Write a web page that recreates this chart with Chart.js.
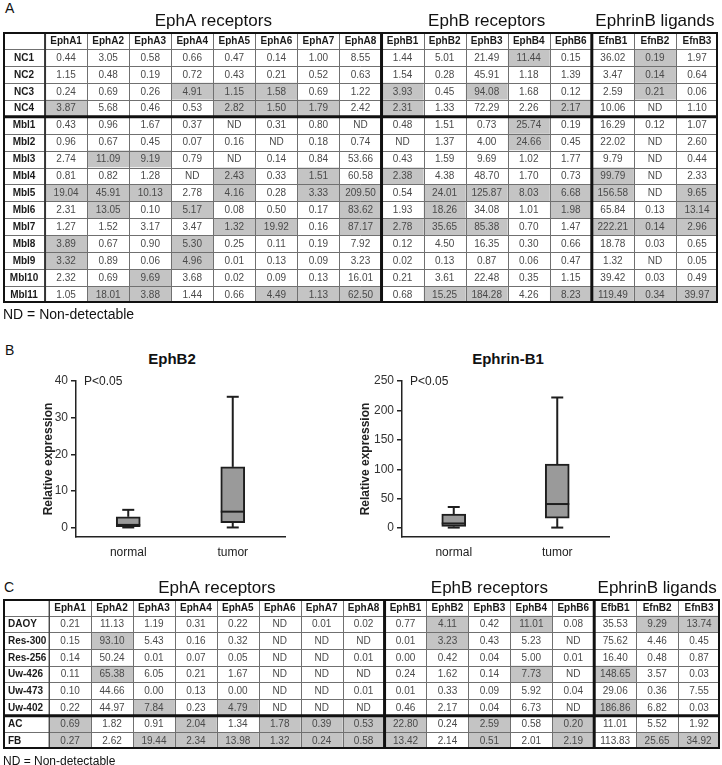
<!DOCTYPE html>
<html>
<head>
<meta charset="utf-8">
<script src="https://cdn.jsdelivr.net/npm/chart.js"></script>
<style>
  body { margin: 0; width: 722px; height: 765px; position: relative; overflow: hidden; background: #fff;
         font-family: "Liberation Sans", Arial, sans-serif; color: #111; }
  canvas, .txt { position: absolute; }
  .txt { line-height: 1; white-space: nowrap; }
  .ttl { font-weight: bold; font-size: 15px; text-align: center; }
</style>
</head>
<body>
<div class="txt" style="left:5px;top:1px;font-size:14px">A</div>
<canvas id="tableA" width="722" height="310" style="left:0;top:0"></canvas>
<div class="txt" style="left:3px;top:307px;font-size:14px">ND = Non-detectable</div>

<div class="txt" style="left:5px;top:343px;font-size:14px">B</div>
<div class="txt ttl" style="left:72px;top:351px;width:200px">EphB2</div>
<div class="txt ttl" style="left:408px;top:351px;width:200px">Ephrin-B1</div>
<canvas id="boxEphB2" width="300" height="190" style="left:0;top:370px"></canvas>
<canvas id="boxEfnB1" width="270" height="190" style="left:355px;top:370px"></canvas>

<div class="txt" style="left:4px;top:580px;font-size:14px">C</div>
<canvas id="tableC" width="722" height="180" style="left:0;top:575px"></canvas>
<div class="txt" style="left:3px;top:755px;font-size:12px">ND = Non-detectable</div>

<script>
const FONT = '"Liberation Sans", Arial, sans-serif';
Chart.defaults.font.family = FONT;

// column groups shared by both tables
const groupNames = ['EphA receptors', 'EphB receptors', 'EphrinB ligands'];
const groupSizes = [8, 5, 3];

// table A: tissue samples
const colsA = ['EphA1', 'EphA2', 'EphA3', 'EphA4', 'EphA5', 'EphA6', 'EphA7', 'EphA8',
               'EphB1', 'EphB2', 'EphB3', 'EphB4', 'EphB6', 'EfnB1', 'EfnB2', 'EfnB3'];
const rowsA = ['NC1', 'NC2', 'NC3', 'NC4', 'Mbl1', 'Mbl2', 'Mbl3', 'Mbl4', 'Mbl5', 'Mbl6',
               'Mbl7', 'Mbl8', 'Mbl9', 'Mbl10', 'Mbl11'];
const valuesA = [
  ['0.44', '3.05', '0.58', '0.66', '0.47', '0.14', '1.00', '8.55', '1.44', '5.01', '21.49', '11.44', '0.15', '36.02', '0.19', '1.97'],
  ['1.15', '0.48', '0.19', '0.72', '0.43', '0.21', '0.52', '0.63', '1.54', '0.28', '45.91', '1.18', '1.39', '3.47', '0.14', '0.64'],
  ['0.24', '0.69', '0.26', '4.91', '1.15', '1.58', '0.69', '1.22', '3.93', '0.45', '94.08', '1.68', '0.12', '2.59', '0.21', '0.06'],
  ['3.87', '5.68', '0.46', '0.53', '2.82', '1.50', '1.79', '2.42', '2.31', '1.33', '72.29', '2.26', '2.17', '10.06', 'ND', '1.10'],
  ['0.43', '0.96', '1.67', '0.37', 'ND', '0.31', '0.80', 'ND', '0.48', '1.51', '0.73', '25.74', '0.19', '16.29', '0.12', '1.07'],
  ['0.96', '0.67', '0.45', '0.07', '0.16', 'ND', '0.18', '0.74', 'ND', '1.37', '4.00', '24.66', '0.45', '22.02', 'ND', '2.60'],
  ['2.74', '11.09', '9.19', '0.79', 'ND', '0.14', '0.84', '53.66', '0.43', '1.59', '9.69', '1.02', '1.77', '9.79', 'ND', '0.44'],
  ['0.81', '0.82', '1.28', 'ND', '2.43', '0.33', '1.51', '60.58', '2.38', '4.38', '48.70', '1.70', '0.73', '99.79', 'ND', '2.33'],
  ['19.04', '45.91', '10.13', '2.78', '4.16', '0.28', '3.33', '209.50', '0.54', '24.01', '125.87', '8.03', '6.68', '156.58', 'ND', '9.65'],
  ['2.31', '13.05', '0.10', '5.17', '0.08', '0.50', '0.17', '83.62', '1.93', '18.26', '34.08', '1.01', '1.98', '65.84', '0.13', '13.14'],
  ['1.27', '1.52', '3.17', '3.47', '1.32', '19.92', '0.16', '87.17', '2.78', '35.65', '85.38', '0.70', '1.47', '222.21', '0.14', '2.96'],
  ['3.89', '0.67', '0.90', '5.30', '0.25', '0.11', '0.19', '7.92', '0.12', '4.50', '16.35', '0.30', '0.66', '18.78', '0.03', '0.65'],
  ['3.32', '0.89', '0.06', '4.96', '0.01', '0.13', '0.09', '3.23', '0.02', '0.13', '0.87', '0.06', '0.47', '1.32', 'ND', '0.05'],
  ['2.32', '0.69', '9.69', '3.68', '0.02', '0.09', '0.13', '16.01', '0.21', '3.61', '22.48', '0.35', '1.15', '39.42', '0.03', '0.49'],
  ['1.05', '18.01', '3.88', '1.44', '0.66', '4.49', '1.13', '62.50', '0.68', '15.25', '184.28', '4.26', '8.23', '119.49', '0.34', '39.97']
];
// highlighted (grey) cells, column indexes per row
const shadeA = [
  [11, 14], [14], [3, 4, 5, 8, 10, 14], [0, 4, 5, 6, 8, 12],
  [11], [11], [1, 2], [4, 6, 8, 13],
  [0, 1, 2, 4, 6, 7, 9, 10, 11, 12, 13, 15], [1, 3, 7, 9, 12, 15],
  [4, 5, 7, 8, 9, 10, 13, 14, 15], [0, 3], [0, 3], [2],
  [1, 2, 5, 6, 7, 9, 10, 12, 13, 14, 15]
];

// table C: cell lines
const colsC = ['EphA1', 'EphA2', 'EphA3', 'EphA4', 'EphA5', 'EphA6', 'EphA7', 'EphA8',
               'EphB1', 'EphB2', 'EphB3', 'EphB4', 'EphB6', 'EfbB1', 'EfnB2', 'EfnB3'];
const rowsC = ['DAOY', 'Res-300', 'Res-256', 'Uw-426', 'Uw-473', 'Uw-402', 'AC', 'FB'];
const valuesC = [
  ['0.21', '11.13', '1.19', '0.31', '0.22', 'ND', '0.01', '0.02', '0.77', '4.11', '0.42', '11.01', '0.08', '35.53', '9.29', '13.74'],
  ['0.15', '93.10', '5.43', '0.16', '0.32', 'ND', 'ND', 'ND', '0.01', '3.23', '0.43', '5.23', 'ND', '75.62', '4.46', '0.45'],
  ['0.14', '50.24', '0.01', '0.07', '0.05', 'ND', 'ND', '0.01', '0.00', '0.42', '0.04', '5.00', '0.01', '16.40', '0.48', '0.87'],
  ['0.11', '65.38', '6.05', '0.21', '1.67', 'ND', 'ND', 'ND', '0.24', '1.62', '0.14', '7.73', 'ND', '148.65', '3.57', '0.03'],
  ['0.10', '44.66', '0.00', '0.13', '0.00', 'ND', 'ND', '0.01', '0.01', '0.33', '0.09', '5.92', '0.04', '29.06', '0.36', '7.55'],
  ['0.22', '44.97', '7.84', '0.23', '4.79', 'ND', 'ND', 'ND', '0.46', '2.17', '0.04', '6.73', 'ND', '186.86', '6.82', '0.03'],
  ['0.69', '1.82', '0.91', '2.04', '1.34', '1.78', '0.39', '0.53', '22.80', '0.24', '2.59', '0.58', '0.20', '11.01', '5.52', '1.92'],
  ['0.27', '2.62', '19.44', '2.34', '13.98', '1.32', '0.24', '0.58', '13.42', '2.14', '0.51', '2.01', '2.19', '113.83', '25.65', '34.92']
];
const shadeC = [
  [9, 11, 14, 15], [1, 9], [], [1, 11, 13], [], [2, 4, 13],
  [0, 3, 5, 6, 7, 8, 10, 12],
  [0, 2, 3, 4, 5, 6, 7, 8, 10, 12, 14, 15]
];

// panel B box plots
const groups = ['normal', 'tumor'];
const ephb2Min = [0.1, 0.1];
const ephb2Q1 = [0.3, 1.4];
const ephb2Median = [0.8, 4.4];
const ephb2Q3 = [3.0, 16.6];
const ephb2Max = [4.9, 35.7];
const ephb2Ticks = [0, 10, 20, 30, 40];

const efnb1Min = [1, 1];
const efnb1Q1 = [3, 17];
const efnb1Median = [8, 41];
const efnb1Q3 = [24, 109];
const efnb1Max = [36, 222];
const efnb1Ticks = [0, 50, 100, 150, 200, 250];

const SHADE = '#c4c4c4';

function line(ctx, x1, y1, x2, y2) {
  ctx.beginPath(); ctx.moveTo(x1, y1); ctx.lineTo(x2, y2); ctx.stroke();
}

function drawTable(id, cols, rows, values, shade, opt) {
  const widths = [opt.labelWeight].concat(cols.map(() => 1));
  const edges = [0];
  widths.forEach(w => edges.push(edges[edges.length - 1] + w));
  const labels = [''].concat(rows);

  const datasets = widths.map((w, c) => ({
    data: labels.map(() => w),
    backgroundColor: ctx => (c > 0 && ctx.dataIndex > 0 && shade[ctx.dataIndex - 1].includes(c - 1)) ? SHADE : '#ffffff',
    borderWidth: 0,
    barPercentage: 1,
    categoryPercentage: 1,
    inflateAmount: 0
  }));

  new Chart(document.getElementById(id), {
    type: 'bar',
    data: { labels: labels, datasets: datasets },
    options: {
      indexAxis: 'y',
      responsive: false,
      animation: false,
      devicePixelRatio: 1,
      layout: { padding: opt.padding },
      plugins: { legend: { display: false }, tooltip: { enabled: false } },
      scales: {
        x: { type: 'linear', stacked: true, min: 0, max: edges[edges.length - 1], display: false },
        y: { stacked: true, display: false }
      }
    },
    plugins: [{
      id: 'cells',
      afterDatasetsDraw(chart) {
        const { ctx, chartArea: a } = chart;
        const X = v => chart.scales.x.getPixelForValue(v);
        const Y = v => chart.scales.y.getPixelForValue(v);
        ctx.save();

        // thin cell borders
        ctx.strokeStyle = '#707070';
        ctx.lineWidth = 1;
        for (let c = 1; c < edges.length - 1; c++) {
          const px = Math.round(X(edges[c])) + 0.5;
          line(ctx, px, a.top, px, a.bottom);
        }
        for (let r = 1; r < labels.length; r++) {
          const py = Math.round(Y(r - 0.5)) + 0.5;
          line(ctx, a.left, py, a.right, py);
        }
        // darker line after the row-label column
        ctx.strokeStyle = '#333';
        ctx.lineWidth = opt.labelLine;
        line(ctx, X(edges[1]), a.top, X(edges[1]), a.bottom);

        // thick separators between groups and sample sets
        ctx.strokeStyle = '#111';
        ctx.lineWidth = 3;
        let g = 1;
        groupSizes.slice(0, -1).forEach(s => {
          g += s;
          line(ctx, X(edges[g]), a.top, X(edges[g]), a.bottom);
        });
        line(ctx, a.left, Y(opt.split + 0.5), a.right, Y(opt.split + 0.5));
        ctx.lineWidth = 2;
        ctx.strokeRect(a.left + 1, a.top + 1, a.width - 2, a.height - 2);

        // cell text
        ctx.textBaseline = 'middle';
        labels.forEach((lab, r) => {
          widths.forEach((w, c) => {
            let txt, bold = false, align = 'center';
            if (r === 0) { txt = c === 0 ? '' : cols[c - 1]; bold = true; }
            else if (c === 0) { txt = lab; bold = true; align = opt.rowAlign; }
            else txt = values[r - 1][c - 1];
            ctx.font = (bold ? 'bold ' : '') + '10px ' + FONT;
            ctx.fillStyle = bold ? '#1a1a1a' : '#4a4a4a';
            ctx.textAlign = align;
            const cx = align === 'left' ? X(edges[c]) + 5 : (X(edges[c]) + X(edges[c + 1])) / 2;
            ctx.fillText(txt, cx, Y(r) + 0.5);
          });
        });

        // group headings above the table
        ctx.font = '17px ' + FONT;
        ctx.fillStyle = '#111';
        ctx.textAlign = 'center';
        let start = 1;
        groupNames.forEach((nm, i) => {
          const end = start + groupSizes[i];
          ctx.fillText(nm, (X(edges[start]) + X(edges[end])) / 2, a.top - 11);
          start = end;
        });
        ctx.restore();
      }
    }]
  });
}

function drawBox(id, mins, q1s, meds, q3s, maxs, ticks, yMin, opt) {
  new Chart(document.getElementById(id), {
    type: 'bar',
    data: {
      labels: groups,
      datasets: [{
        data: q1s.map((q, i) => [q, q3s[i]]),
        backgroundColor: '#9a9a9a',
        borderColor: '#1e1e1e',
        borderWidth: 2,
        borderSkipped: false,
        barThickness: 24
      }]
    },
    options: {
      responsive: false,
      animation: false,
      devicePixelRatio: 1,
      layout: { padding: opt.padding },
      plugins: { legend: { display: false }, tooltip: { enabled: false } },
      scales: {
        x: {
          grid: { display: false },
          border: { display: true, color: '#222', width: 1.5 },
          ticks: { color: '#222', font: { size: 12 }, padding: 0 },
          afterFit: ax => { ax.height = 20; }
        },
        y: {
          min: yMin,
          max: ticks[ticks.length - 1],
          afterBuildTicks: ax => { ax.ticks = ticks.map(v => ({ value: v })); },
          afterFit: ax => { ax.width = opt.yWidth; },
          grid: { drawOnChartArea: false, drawTicks: true, tickLength: 5, color: '#222', lineWidth: 1.5 },
          border: { display: true, color: '#222', width: 1.5 },
          ticks: { color: '#333', font: { size: 12 }, padding: 3 },
          title: { display: true, text: 'Relative expression', color: '#222',
                   font: { size: 12, weight: 'bold' }, padding: 0 }
        }
      }
    },
    plugins: [{
      id: 'whiskers',
      beforeDatasetsDraw(chart) {
        const { ctx } = chart;
        const x = chart.scales.x, y = chart.scales.y;
        ctx.save();
        ctx.strokeStyle = '#1e1e1e';
        ctx.lineWidth = 2;
        groups.forEach((g, i) => {
          const cx = x.getPixelForValue(i);
          line(ctx, cx, y.getPixelForValue(maxs[i]), cx, y.getPixelForValue(q3s[i]));
          line(ctx, cx, y.getPixelForValue(q1s[i]), cx, y.getPixelForValue(mins[i]));
        });
        ctx.restore();
      },
      afterDatasetsDraw(chart) {
        const { ctx, chartArea: a } = chart;
        const x = chart.scales.x, y = chart.scales.y;
        const bars = chart.getDatasetMeta(0).data;
        ctx.save();
        ctx.strokeStyle = '#1e1e1e';
        ctx.lineWidth = 2;
        groups.forEach((g, i) => {
          const cx = x.getPixelForValue(i);
          const hw = bars[i].width / 2;
          [maxs[i], mins[i]].forEach(v => {
            const py = y.getPixelForValue(v);
            line(ctx, cx - 6, py, cx + 6, py);
          });
          const pm = y.getPixelForValue(meds[i]);
          line(ctx, cx - hw, pm, cx + hw, pm);
        });
        ctx.font = '12px ' + FONT;
        ctx.fillStyle = '#222';
        ctx.textAlign = 'left';
        ctx.textBaseline = 'middle';
        ctx.fillText('P<0.05', a.left + 8, a.top + 1);
        ctx.restore();
      }
    }]
  });
}

drawTable('tableA', colsA, rowsA, valuesA, shadeA,
  { labelWeight: 1, labelLine: 2, split: 4, rowAlign: 'center', padding: { top: 32, left: 3, right: 4, bottom: 7 } });
drawTable('tableC', colsC, rowsC, valuesC, shadeC,
  { labelWeight: 1.1, labelLine: 1, split: 6, rowAlign: 'left', padding: { top: 24, left: 3, right: 2, bottom: 6 } });

drawBox('boxEphB2', ephb2Min, ephb2Q1, ephb2Median, ephb2Q3, ephb2Max, ephb2Ticks, -2.5,
  { yWidth: 35, padding: { top: 11, left: 41, right: 15, bottom: 3 } });
drawBox('boxEfnB1', efnb1Min, efnb1Q1, efnb1Median, efnb1Q3, efnb1Max, efnb1Ticks, -15,
  { yWidth: 44, padding: { top: 11, left: 3, right: 16, bottom: 3 } });
</script>
</body>
</html>
